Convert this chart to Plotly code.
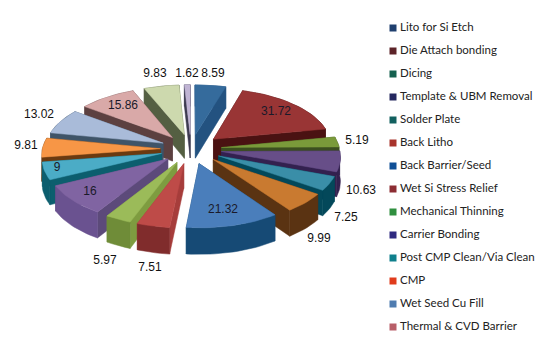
import math
import plotly.graph_objects as go

# ---- data (clockwise from 12 o'clock) ----
slice_values = [8.59, 31.72, 5.19, 10.63, 7.25, 9.99, 21.32, 7.51, 5.97, 16, 9, 9.81, 13.02, 15.86, 9.83, 1.62]
slice_labels = ["8.59", "31.72", "5.19", "10.63", "7.25", "9.99", "21.32", "7.51", "5.97", "16", "9", "9.81", "13.02", "15.86", "9.83", "1.62"]
legend_names = ["Lito for Si Etch", "Die Attach bonding", "Dicing", "Template & UBM Removal", "Solder Plate",
                "Back Litho", "Back Barrier/Seed", "Wet Si Stress Relief", "Mechanical Thinning", "Carrier Bonding",
                "Post CMP Clean/Via Clean", "CMP", "Wet Seed Cu Fill", "Thermal & CVD Barrier"]

# ---- styles ----
top_colors = ["#356b9c", "#993535", "#7a9a3a", "#674e88", "#3a8ea8", "#c97a30", "#4a7ebb", "#be4b48",
              "#9bbb59", "#8064a2", "#4bacc6", "#f79646", "#a9bbd9", "#d9a9a8", "#cdd9ae", "#c0b4d4"]
wall_colors = ["#235280", "#4a1212", "#3c4f20", "#33214f", "#03485a", "#5a3312", "#164a75", "#802c2c",
               "#6f8c38", "#6a5290", "#0c5e6e", "#6b3a10", "#3f5468", "#5c4040", "#545f42", "#3d3a50"]
cut_colors = ["#235280", "#4a1212", "#3c4f20", "#33214f", "#03485a", "#5a3312", "#164a75", "#a63d3b",
              "#7e9c40", "#5c4a7a", "#0c5e6e", "#6b3a10", "#3f5468", "#5c4040", "#545f42", "#3d3a50"]
legend_colors = ["#1f3f6e", "#5c2328", "#14604f", "#25285f", "#12605f", "#a8342c", "#0f4f96", "#8c2d33",
                 "#2f8f3f", "#2f2a80", "#0f7f8c", "#e03c1c", "#4f7cb0", "#b85f68"]
label_pos = [(213, 74), (276, 112), (357, 141), (361, 191), (346, 218), (319, 239), (223, 210), (150, 268),
             (105, 261), (90, 192), (57, 168), (26, 146), (39, 115), (123, 106), (155, 74), (187, 74)]
label_inside_color = "#1a1a2a"

CX, CY, A, B, K, E, DEPTH = 191, 149, 118, 57, 0.084, 0.26, 24
LEG_X, LEG_Y0, LEG_DY = 393, 28, 23
PAGE_INSET = 8  # the page body margin


def project(x, y, z=0.0):
    s = 1 + K * y
    return CX + A * x * s, CY + B * y * s + z * s


def arc_pts(t0, t1, off):
    n = max(3, int((t1 - t0) / math.radians(2)))
    return [(math.sin(t0 + (t1 - t0) * i / n) + off[0], -math.cos(t0 + (t1 - t0) * i / n) + off[1]) for i in range(n + 1)]


def poly(fig, pts, color):
    fig.add_trace(go.Scatter(x=[p[0] for p in pts] + [pts[0][0]], y=[p[1] for p in pts] + [pts[0][1]],
                             mode="lines", fill="toself", fillcolor=color,
                             line=dict(color=color, width=0.5), hoverinfo="skip", showlegend=False))


fig = go.Figure()
total = sum(slice_values)
slices, cum = [], 0.0
for i, v in enumerate(slice_values):
    t0 = 2 * math.pi * cum / total
    t1 = 2 * math.pi * (cum + v) / total
    cum += v
    mid = (t0 + t1) / 2
    off = (E * math.sin(mid), -E * math.cos(mid))
    slices.append((off[1] - 0.6 * math.cos(mid), i, t0, t1, off))

for _, i, t0, t1, off in sorted(slices):
    arc = arc_pts(t0, t1, off)
    for edge in (arc[0], arc[-1]):
        face = [project(*off), project(*edge), project(*edge, DEPTH), project(*off, DEPTH)]
        poly(fig, face, cut_colors[i])
    wall_top = [project(*p) for p in arc]
    wall_bot = [project(*p, DEPTH) for p in arc]
    poly(fig, wall_top + wall_bot[::-1], wall_colors[i])
    poly(fig, [project(*off)] + wall_top, top_colors[i])

# data labels
inside = {"31.72", "21.32", "16", "9", "15.86"}
fig.add_trace(go.Scatter(x=[p[0] for p in label_pos], y=[p[1] for p in label_pos], text=slice_labels,
                         mode="text", textposition="middle center", hoverinfo="skip", showlegend=False,
                         textfont=dict(family="Liberation Sans, Arial", size=12,
                                       color=[label_inside_color if t in inside else "#111111" for t in slice_labels])))

# legend
leg_y = [LEG_Y0 + LEG_DY * i for i in range(len(legend_names))]
fig.add_trace(go.Scatter(x=[LEG_X] * len(legend_names), y=leg_y, mode="markers",
                         marker=dict(symbol="square", size=7, color=legend_colors), hoverinfo="skip", showlegend=False))
fig.add_trace(go.Scatter(x=[LEG_X + 7] * len(legend_names), y=leg_y, text=legend_names, mode="text",
                         textposition="middle right", hoverinfo="skip", showlegend=False,
                         textfont=dict(family="Lato, Open Sans", size=11.5, color="#222222")))

fig.update_layout(width=550 - PAGE_INSET, height=353 - PAGE_INSET, margin=dict(l=0, r=0, t=0, b=0), autosize=False,
                  paper_bgcolor="white", plot_bgcolor="white", showlegend=False,
                  xaxis=dict(range=[PAGE_INSET, 550], visible=False, fixedrange=True),
                  yaxis=dict(range=[353, PAGE_INSET], visible=False, fixedrange=True))
fig.write_html("out.html", config={"displayModeBar": False})
